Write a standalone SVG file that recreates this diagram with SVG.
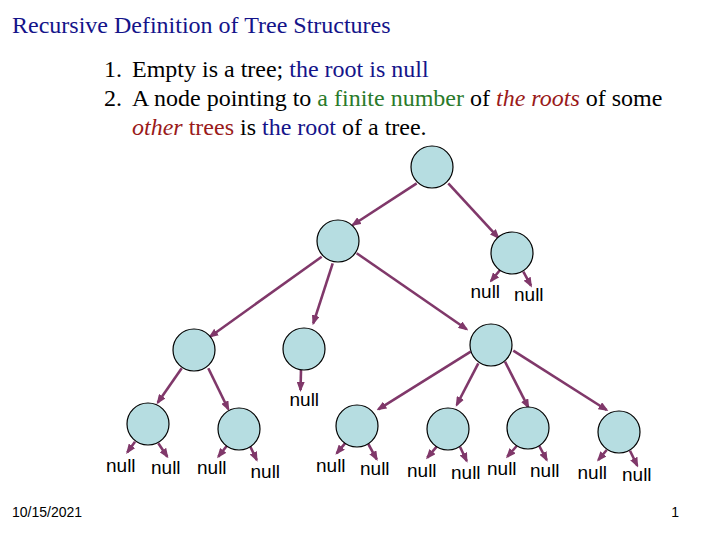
<svg xmlns="http://www.w3.org/2000/svg" width="720" height="540" viewBox="0 0 720 540">
<style>
.serif{font-family:"Liberation Serif","Times New Roman",serif;font-size:24px;fill:#000}
.navy{fill:#14148a}
.green{fill:#2a7a2a}
.red{fill:#9a1a1a}
.it{font-style:italic}
.node{fill:#b6dde1;stroke:#000;stroke-width:1.2}
.edge{stroke:#80386a;stroke-width:2.6;fill:none;marker-end:url(#ah)}
.null{font-family:"Liberation Sans",Arial,sans-serif;font-size:19px;fill:#000}
.foot{font-family:"Liberation Sans",Arial,sans-serif;font-size:14px;fill:#000}
</style>
<defs>
<marker id="ah" viewBox="0 0 10 8" markerUnits="userSpaceOnUse" markerWidth="10" markerHeight="8" refX="8" refY="4" orient="auto">
<path d="M0,0 L10,4 L0,8 z" fill="#80386a"/>
</marker>
</defs>
<rect width="720" height="540" fill="#fff"/>
<text class="serif navy" x="12" y="33">Recursive Definition of Tree Structures</text>
<text class="serif" x="104" y="77">1.</text>
<text class="serif" x="132" y="77">Empty is a tree; <tspan class="navy">the root is null</tspan></text>
<text class="serif" x="104" y="106">2.</text>
<text class="serif" x="132" y="106">A node pointing to <tspan class="green">a finite number</tspan> of <tspan class="red it">the roots</tspan> of some</text>
<text class="serif" x="132" y="135"><tspan class="red it">other</tspan> <tspan class="red">trees</tspan> is <tspan class="navy">the root</tspan> of a tree.</text>
<g id="connectors">
<line class="edge" x1="416.7" y1="183.3" x2="352.7" y2="225"/>
<line class="edge" x1="448.3" y1="183.3" x2="498.3" y2="237.7"/>
<line class="edge" x1="321.7" y1="256.7" x2="210" y2="336.7"/>
<line class="edge" x1="332.7" y1="263.3" x2="313.3" y2="323.3"/>
<line class="edge" x1="356.7" y1="253.3" x2="466.7" y2="329.3"/>
<line class="edge" x1="181.7" y1="368.3" x2="157.7" y2="402.7"/>
<line class="edge" x1="208.3" y1="368.3" x2="228.3" y2="409.3"/>
<line class="edge" x1="301" y1="370" x2="300.5" y2="390"/>
<line class="edge" x1="470.7" y1="351.7" x2="378.3" y2="409.3"/>
<line class="edge" x1="478.3" y1="363.3" x2="456.7" y2="405"/>
<line class="edge" x1="505" y1="361.7" x2="528.3" y2="407.3"/>
<line class="edge" x1="513.3" y1="350.7" x2="606.7" y2="410"/>
<line class="edge" x1="500" y1="270" x2="491" y2="281"/>
<line class="edge" x1="523.3" y1="271.7" x2="531" y2="285.7"/>
<line class="edge" x1="135" y1="441.7" x2="127.3" y2="452.3"/>
<line class="edge" x1="158.3" y1="443.3" x2="167.3" y2="456.7"/>
<line class="edge" x1="226.7" y1="446" x2="218.3" y2="456.7"/>
<line class="edge" x1="250" y1="446" x2="256.7" y2="460"/>
<line class="edge" x1="345" y1="443.3" x2="336.7" y2="453.3"/>
<line class="edge" x1="368.3" y1="444" x2="376.7" y2="459.3"/>
<line class="edge" x1="436.7" y1="446.7" x2="427.3" y2="457.7"/>
<line class="edge" x1="460" y1="446.7" x2="466.7" y2="461"/>
<line class="edge" x1="516.7" y1="446" x2="507.3" y2="456.7"/>
<line class="edge" x1="539.3" y1="446" x2="546.7" y2="460"/>
<line class="edge" x1="606.7" y1="450" x2="598.3" y2="460"/>
<line class="edge" x1="630" y1="450.7" x2="637.3" y2="465.7"/>
</g>
<g id="root"><circle class="node" cx="432" cy="167" r="21"/></g>
<g id="nodeA"><circle class="node" cx="338" cy="241" r="21"/></g>
<g id="nodeB"><circle class="node" cx="512" cy="253" r="21"/></g>
<g id="nodeC"><circle class="node" cx="194" cy="350" r="21"/></g>
<g id="nodeD"><circle class="node" cx="304" cy="349" r="21"/></g>
<g id="nodeE"><circle class="node" cx="491" cy="345" r="21"/></g>
<g id="nodeF"><circle class="node" cx="148" cy="424" r="21"/></g>
<g id="nodeG"><circle class="node" cx="239" cy="429" r="21"/></g>
<g id="nodeH"><circle class="node" cx="357" cy="426" r="21"/></g>
<g id="nodeI"><circle class="node" cx="448" cy="429" r="21"/></g>
<g id="nodeJ"><circle class="node" cx="528" cy="428" r="21"/></g>
<g id="nodeK"><circle class="node" cx="619" cy="432" r="21"/></g>
<g id="nulls">
<text class="null" x="470.5" y="297.5">null</text>
<text class="null" x="514" y="300.5">null</text>
<text class="null" x="289.5" y="405.5">null</text>
<text class="null" x="106" y="471.5">null</text>
<text class="null" x="151" y="473.5">null</text>
<text class="null" x="197" y="473.5">null</text>
<text class="null" x="250.5" y="477.5">null</text>
<text class="null" x="316" y="471.5">null</text>
<text class="null" x="360" y="474.5">null</text>
<text class="null" x="407" y="476.5">null</text>
<text class="null" x="451" y="478.5">null</text>
<text class="null" x="487" y="474.5">null</text>
<text class="null" x="530" y="476.5">null</text>
<text class="null" x="577.5" y="478.5">null</text>
<text class="null" x="622" y="481">null</text>
</g>
<text class="foot" x="12" y="517">10/15/2021</text>
<text class="foot" x="679" y="517" text-anchor="end">1</text>
</svg>
